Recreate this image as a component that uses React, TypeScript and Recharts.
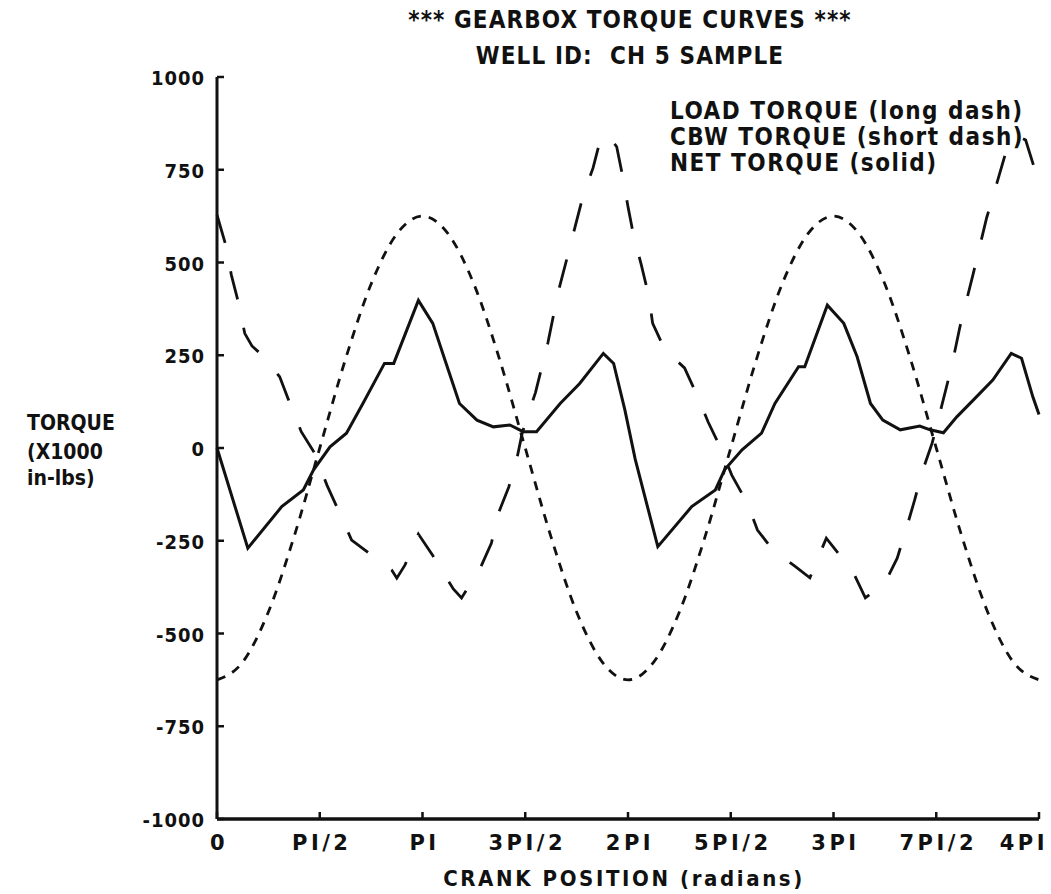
import React from 'react'
import { LineChart, Line, XAxis, YAxis } from 'recharts'

// crank position in units of PI/2 (0 .. 8 = 0 .. 4PI), torque in 1000 in-lbs
const xTickLabels = ['0', 'PI/2', 'PI', '3PI/2', '2PI', '5PI/2', '3PI', '7PI/2', '4PI']
const xTicks = [0, 1, 2, 3, 4, 5, 6, 7, 8]
const yTicks = [-1000, -750, -500, -250, 0, 250, 500, 750, 1000]

const netPos = [0, 0.3, 0.63, 0.84, 0.94, 1.1, 1.26, 1.42, 1.63, 1.72, 1.96, 2.1, 2.23, 2.36, 2.53, 2.69, 2.85, 2.98, 3.11, 3.34, 3.53, 3.76, 3.86, 3.97, 4.07, 4.29, 4.62, 4.85, 4.94, 5.11, 5.3, 5.43, 5.66, 5.72, 5.94, 6.1, 6.23, 6.36, 6.48, 6.65, 6.84, 6.94, 7.07, 7.2, 7.36, 7.55, 7.73, 7.83, 7.94, 8]
const netTorque = [0, -270, -158, -113, -59, 3, 40, 120, 228, 228, 398, 336, 228, 120, 75, 57, 62, 44, 44, 120, 174, 255, 228, 102, -30, -266, -158, -113, -59, -5, 40, 120, 219, 219, 385, 336, 246, 120, 75, 49, 59, 49, 41, 84, 129, 183, 255, 242, 138, 90]

const loadPos = [0, 0.08, 0.14, 0.21, 0.27, 0.34, 0.42, 0.61, 0.71, 0.82, 0.95, 1.07, 1.18, 1.31, 1.5, 1.7, 1.75, 1.83, 1.96, 2.1, 2.3, 2.38, 2.56, 2.67, 2.74, 2.84, 2.92, 2.97, 3.1, 3.22, 3.32, 3.42, 3.56, 3.66, 3.73, 3.8, 3.89, 3.95, 4.0, 4.05, 4.13, 4.2, 4.24, 4.36, 4.55, 4.68, 4.78, 4.91, 5.01, 5.16, 5.26, 5.41, 5.63, 5.77, 5.93, 6.19, 6.31, 6.5, 6.62, 6.71, 6.79, 6.86, 6.96, 7.05, 7.15, 7.23, 7.36, 7.49, 7.59, 7.67, 7.8, 7.87, 7.96, 8]
const loadTorque = [628, 552, 466, 390, 309, 275, 255, 192, 120, 44, -14, -100, -167, -248, -288, -329, -351, -315, -232, -290, -380, -404, -325, -257, -175, -105, -27, 40, 150, 283, 420, 526, 677, 755, 830, 845, 812, 730, 650, 579, 493, 412, 336, 264, 216, 137, 70, -5, -73, -148, -221, -275, -320, -350, -243, -334, -404, -364, -297, -216, -140, -67, 13, 110, 220, 326, 470, 620, 714, 790, 840, 830, 750, 710]

const cbwPos = [0, 0.25, 0.5, 0.75, 1, 1.25, 1.5, 1.75, 2, 2.25, 2.5, 2.75, 3, 3.25, 3.5, 3.75, 4, 4.25, 4.5, 4.75, 5, 5.25, 5.5, 5.75, 6, 6.25, 6.5, 6.75, 7, 7.25, 7.5, 7.75, 8]
const cbwTorque = [-625, -577, -442, -239, 0, 239, 442, 577, 625, 577, 442, 239, 0, -239, -442, -577, -625, -577, -442, -239, 0, 239, 442, 577, 625, 577, 442, 239, 0, -239, -442, -577, -625]

const netData = netPos.map((x, i) => ({ x, y: netTorque[i] }))
const loadData = loadPos.map((x, i) => ({ x, y: loadTorque[i] }))
const cbwData = cbwPos.map((x, i) => ({ x, y: cbwTorque[i] }))

const FONT = '"DejaVu Sans", sans-serif'
const FONT_C = '"DejaVu Sans Condensed", "DejaVu Sans", sans-serif'
const INK = '#111'

const BottomTick = (p: any) => {
  const last = p.payload.value === 8
  return (
    <g>
      <line x1={p.x} y1={p.y} x2={p.x} y2={p.y - 7} stroke={INK} strokeWidth={2.5} />
      <text x={last ? p.x + 9 : p.x + 2} y={p.y + 31} textAnchor={last ? 'end' : 'middle'} fontFamily={FONT} fontWeight="bold" fontSize={21} fill={INK} letterSpacing={3.5}>
        {xTickLabels[p.payload.value]}
      </text>
    </g>
  )
}

const TopTick = (p: any) => (
  <line x1={p.x} y1={p.y} x2={p.x} y2={p.y + 7} stroke={INK} strokeWidth={2.5} />
)

const LeftTick = (p: any) => (
  <g>
    <line x1={p.x} y1={p.y} x2={p.x + 7} y2={p.y} stroke={INK} strokeWidth={2.5} />
    <text x={p.x - 12} y={p.y + 8} textAnchor="end" fontFamily={FONT_C} fontWeight="bold" fontSize={20} fill={INK} letterSpacing={1} style={{ fontStretch: 'condensed' }}>
      {p.payload.value}
    </text>
  </g>
)

const RightTick = (p: any) => (
  <line x1={p.x} y1={p.y} x2={p.x - 7} y2={p.y} stroke={INK} strokeWidth={2.5} />
)

const txt = { fontFamily: FONT_C, fontStretch: 'condensed', fontWeight: 'bold' as const, fontSize: 24, fill: INK, letterSpacing: 1.1, whiteSpace: 'pre' as const }
const legend = { ...txt, letterSpacing: 1.5 }
const side = { ...txt, fontSize: 21, letterSpacing: 0 }

export default function App() {
  return (
    <div style={{ position: 'absolute', left: 0, top: 0, width: 1051, height: 894, background: '#fff' }}>
      <LineChart width={1051} height={894} margin={{ top: 77, right: 12, bottom: 45, left: 157 }}>
        <XAxis xAxisId="b" dataKey="x" type="number" domain={[0, 8]} ticks={xTicks} height={30}
          axisLine={{ stroke: INK, strokeWidth: 3.5 }} tickLine={false} tickSize={0} tickMargin={0} tick={BottomTick} interval={0} />
        <XAxis xAxisId="t" orientation="top" dataKey="x" type="number" domain={[0, 8]} ticks={xTicks} height={0}
          axisLine={{ stroke: INK, strokeWidth: 3 }} tickLine={false} tickSize={0} tickMargin={0} tick={TopTick} interval={0} />
        <YAxis yAxisId="l" type="number" domain={[-1000, 1000]} ticks={yTicks} width={60}
          axisLine={{ stroke: INK, strokeWidth: 3 }} tickLine={false} tickSize={0} tickMargin={0} tick={LeftTick} interval={0} />
        <YAxis yAxisId="r" orientation="right" type="number" domain={[-1000, 1000]} ticks={yTicks} width={0}
          axisLine={{ stroke: INK, strokeWidth: 3 }} tickLine={false} tickSize={0} tickMargin={0} tick={RightTick} interval={0} />
        <Line xAxisId="b" yAxisId="l" data={cbwData} dataKey="y" type="monotone" stroke={INK} strokeWidth={2.8}
          strokeDasharray="9 8" dot={false} isAnimationActive={false} />
        <Line xAxisId="b" yAxisId="l" data={loadData} dataKey="y" type="linear" stroke={INK} strokeWidth={2.8}
          strokeDasharray="29 29" dot={false} isAnimationActive={false} />
        <Line xAxisId="b" yAxisId="l" data={netData} dataKey="y" type="linear" stroke={INK} strokeWidth={3}
          dot={false} isAnimationActive={false} />
      </LineChart>
      <svg width={1051} height={894} style={{ position: 'absolute', left: 0, top: 0, pointerEvents: 'none' }}>
        <text x={630} y={20} textAnchor="middle" dominantBaseline="central" style={txt}>*** GEARBOX TORQUE CURVES ***</text>
        <text x={630} y={56} textAnchor="middle" dominantBaseline="central" style={txt}>WELL ID:  CH 5 SAMPLE</text>
        <text x={670} y={111} dominantBaseline="central" style={legend}>LOAD TORQUE (long dash)</text>
        <text x={670} y={137} dominantBaseline="central" style={legend}>CBW TORQUE (short dash)</text>
        <text x={670} y={163} dominantBaseline="central" style={legend}>NET TORQUE (solid)</text>
        <text x={27} y={423} dominantBaseline="central" style={side}>TORQUE</text>
        <text x={27} y={452} dominantBaseline="central" style={side}>(X1000</text>
        <text x={27} y={478} dominantBaseline="central" style={side}>in-lbs)</text>
        <text x={624} y={878} textAnchor="middle" dominantBaseline="central" style={{ ...txt, fontSize: 22, letterSpacing: 2.6 }}>CRANK POSITION (radians)</text>
      </svg>
    </div>
  )
}
